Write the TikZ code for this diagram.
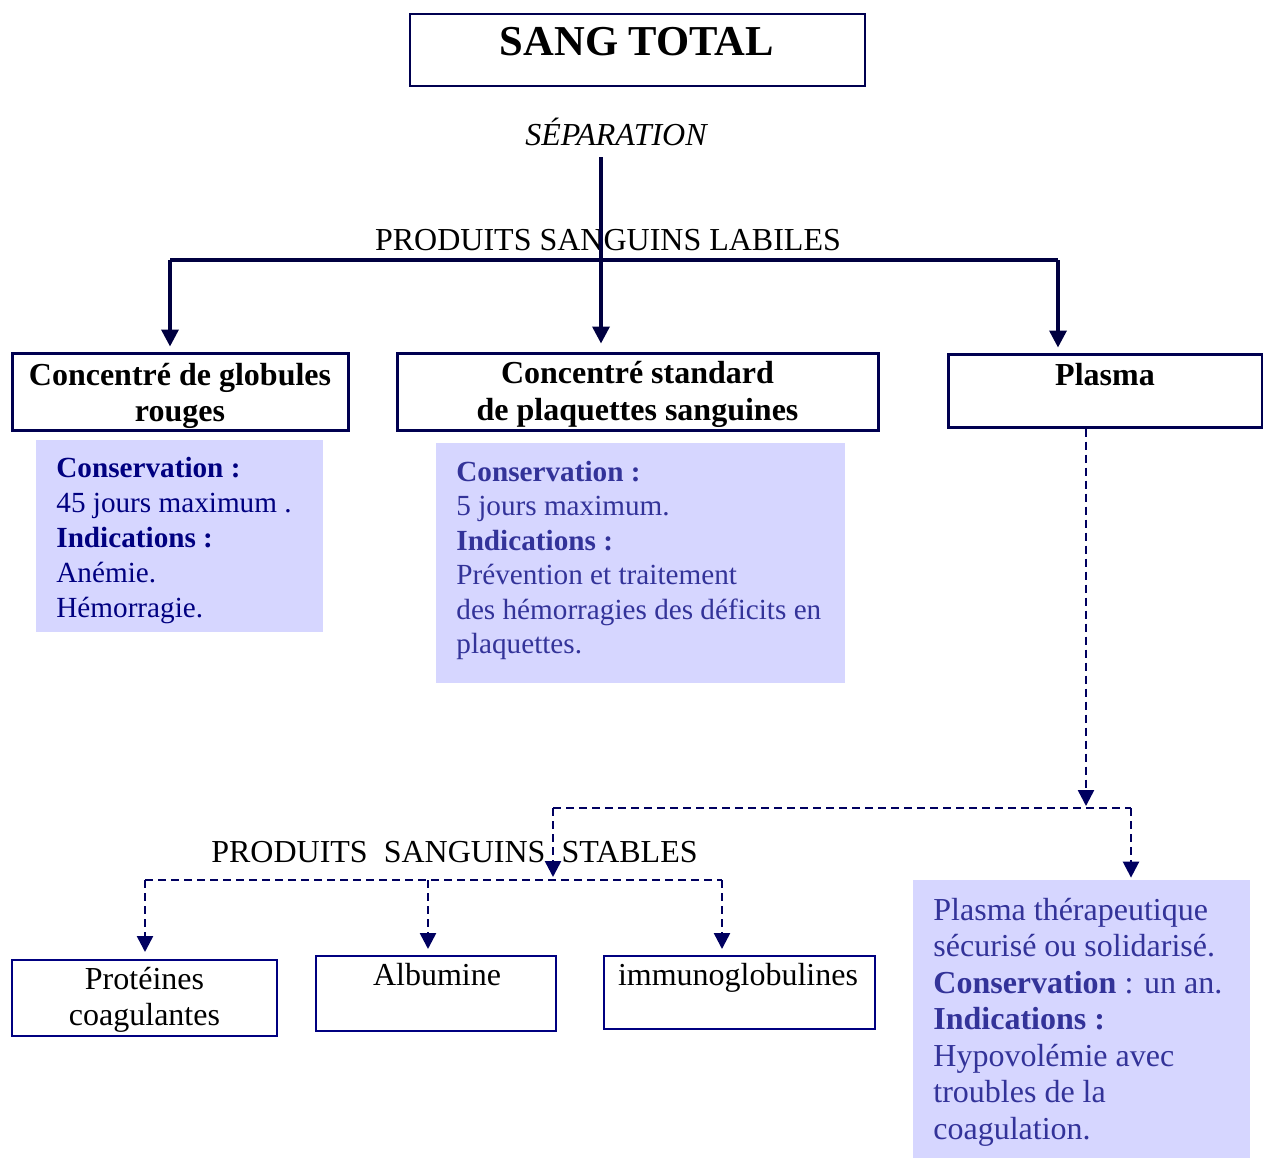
\documentclass[tikz,border=0pt]{standalone}
\usepackage{fontspec}
\setmainfont{Liberation Serif}
\usetikzlibrary{arrows.meta,calc}
\definecolor{navyln}{HTML}{000040}
\definecolor{boxln}{HTML}{000050}
\definecolor{lowln}{HTML}{000080}
\definecolor{dashln}{HTML}{000060}
\definecolor{fillb}{HTML}{D6D6FF}
\definecolor{txtA}{HTML}{000080}
\definecolor{txtB}{HTML}{333399}
\newcommand{\fsA}{\fontsize{21.3pt}{25pt}\selectfont}
\newcommand{\fsB}{\fontsize{16pt}{19pt}\selectfont}
\newcommand{\fsC}{\fontsize{14.6pt}{17.5pt}\selectfont}
\begin{document}
\begin{tikzpicture}[x=0.5pt,y=0.5pt,
  topbox/.style={draw=boxln,line width=1pt,inner sep=0pt},
  headbox/.style={draw=boxln,line width=1.5pt,inner sep=0pt},
  lowbox/.style={draw=lowln,line width=1pt,inner sep=0pt},
  infobox/.style={fill=fillb,draw=none,inner sep=0pt},
  txt/.style={inner sep=0pt,anchor=base},
  txtl/.style={inner sep=0pt,anchor=base west},
  solidln/.style={draw=navyln,line width=1.75pt},
  solidarr/.style={solidln,-{Triangle[length=8.5pt,width=8.5pt]}},
  dashln/.style={draw=dashln,line width=1.25pt,dash pattern=on 4pt off 2.5pt},
  dasharr/.style={dashln,-{Triangle[length=8pt,width=8pt]}}]
\useasboundingbox (0,0) rectangle (1263,-1158);

% boxes
\node[topbox,minimum width=227.5pt,minimum height=36pt] (sang) at (637.5,-50) {};
\node[headbox,minimum width=168pt,minimum height=38.5pt] (glob) at (180,-391.5) {};
\node[headbox,minimum width=240.5pt,minimum height=38.5pt] (plaq) at (637.5,-391.5) {};
\node[headbox,minimum width=157pt,minimum height=36.5pt] (plas) at (1105,-390.5) {};
\node[infobox,minimum width=143.5pt,minimum height=96pt] (info1) at (179.5,-536) {};
\node[infobox,minimum width=204.5pt,minimum height=120pt] (info2) at (640.5,-563) {};
\node[infobox,minimum width=168.5pt,minimum height=139pt] (info3) at (1081.5,-1019) {};
\node[lowbox,minimum width=132.5pt,minimum height=38pt] (prot) at (144.5,-998) {};
\node[lowbox,minimum width=120pt,minimum height=37.5pt] (alb) at (436,-993.5) {};
\node[lowbox,minimum width=135.5pt,minimum height=36.5pt] (imm) at (739.5,-992.5) {};

% titles
\node[txt,font=\fsA\bfseries] (tsang) at (637,-55) {SANG TOTAL};
\node[txt,font=\fsB\itshape] (tsep) at (616,-145) {SÉPARATION};
\node[txt,font=\fsB] (tlab) at (608,-250) {PRODUITS SANGUINS LABILES};
\node[txt,font=\fsB] (tstab) at (454.5,-862) {PRODUITS\ \ SANGUINS\ \ STABLES};

% heading texts
\node[txt,font=\fsB\bfseries] (tg1) at (180,-385) {Concentré de globules};
\node[txt,font=\fsB\bfseries] (tg2) at (180,-421) {rouges};
\node[txt,font=\fsB\bfseries] (tp1) at (637.5,-383.5) {Concentré standard};
\node[txt,font=\fsB\bfseries] (tp2) at (637.5,-420) {de plaquettes sanguines};
\node[txt,font=\fsB\bfseries] (tpl) at (1105,-385) {Plasma};

% info box 1
\begin{scope}[every node/.style={txtl,font=\fsC,text=txtA}]
\node (a1) at (56,-477) {\textbf{Conservation :}};
\node (a2) at (56,-512) {45 jours maximum .};
\node (a3) at (56,-547) {\textbf{Indications :}};
\node (a4) at (56,-582) {Anémie.};
\node (a5) at (56,-617) {Hémorragie.};
\end{scope}

% info box 2
\begin{scope}[every node/.style={txtl,font=\fsC,text=txtB}]
\node (b1) at (456,-481) {\textbf{Conservation :}};
\node (b2) at (456,-515.5) {5 jours maximum.};
\node (b3) at (456,-550) {\textbf{Indications :}};
\node (b4) at (456,-584.5) {Prévention et traitement};
\node (b5) at (456,-619) {des hémorragies des déficits en};
\node (b6) at (456,-653.5) {plaquettes.};
\end{scope}

% info box 3
\begin{scope}[every node/.style={txtl,font=\fsB,text=txtB}]
\node (c1) at (933,-920) {Plasma thérapeutique};
\node (c2) at (933,-956.5) {sécurisé ou solidarisé.};
\node (c3) at (933,-993) {\textbf{Conservation} : un an.};
\node (c4) at (933,-1029.5) {\textbf{Indications :}};
\node (c5) at (933,-1066) {Hypovolémie avec};
\node (c6) at (933,-1102.5) {troubles de la};
\node (c7) at (933,-1139) {coagulation.};
\end{scope}

% low box texts
\node[txt,font=\fsB] (tpr1) at (144.5,-989) {Protéines};
\node[txt,font=\fsB] (tpr2) at (144.5,-1025.5) {coagulantes};
\node[txt,font=\fsB] (talb) at (437,-985) {Albumine};
\node[txt,font=\fsB] (timm) at (738,-985) {immunoglobulines};

% solid connectors
\coordinate (s0) at (601,-157);
\coordinate (bl) at (170,-260);
\coordinate (br) at (1058,-260);
\draw[solidln] (bl) -- (br);
\draw[solidarr,shorten >=4pt] (s0) -- (s0 |- plaq.north);
\draw[solidarr,shorten >=2.5pt] (bl) -- (bl |- glob.north);
\draw[solidarr,shorten >=2.5pt] (br) -- (br |- plas.north);

% dashed connectors
\coordinate (dv) at (1086,-808);
\coordinate (dvt) at (1086,-806);
\coordinate (hl) at (553,-808);
\coordinate (hr) at (1131,-808);
\coordinate (ll) at (145,-880);
\coordinate (lm) at (428,-880);
\coordinate (lr) at (722,-880);
\draw[dasharr] (plas.south -| dv) -- (dvt);
\draw[dashln] (hl) -- (hr);
\draw[dasharr,shorten >=1pt] (hr) -- (hr |- info3.north);
\draw[dasharr,shorten >=1.5pt] (hl) -- (hl |- ll);
\draw[dashln] (ll) -- (lr);
\draw[dasharr,shorten >=3.5pt] (ll) -- (ll |- prot.north);
\draw[dasharr,shorten >=3pt] (lm) -- (lm |- alb.north);
\draw[dasharr,shorten >=3pt] (lr) -- (lr |- imm.north);
\end{tikzpicture}
\end{document}
